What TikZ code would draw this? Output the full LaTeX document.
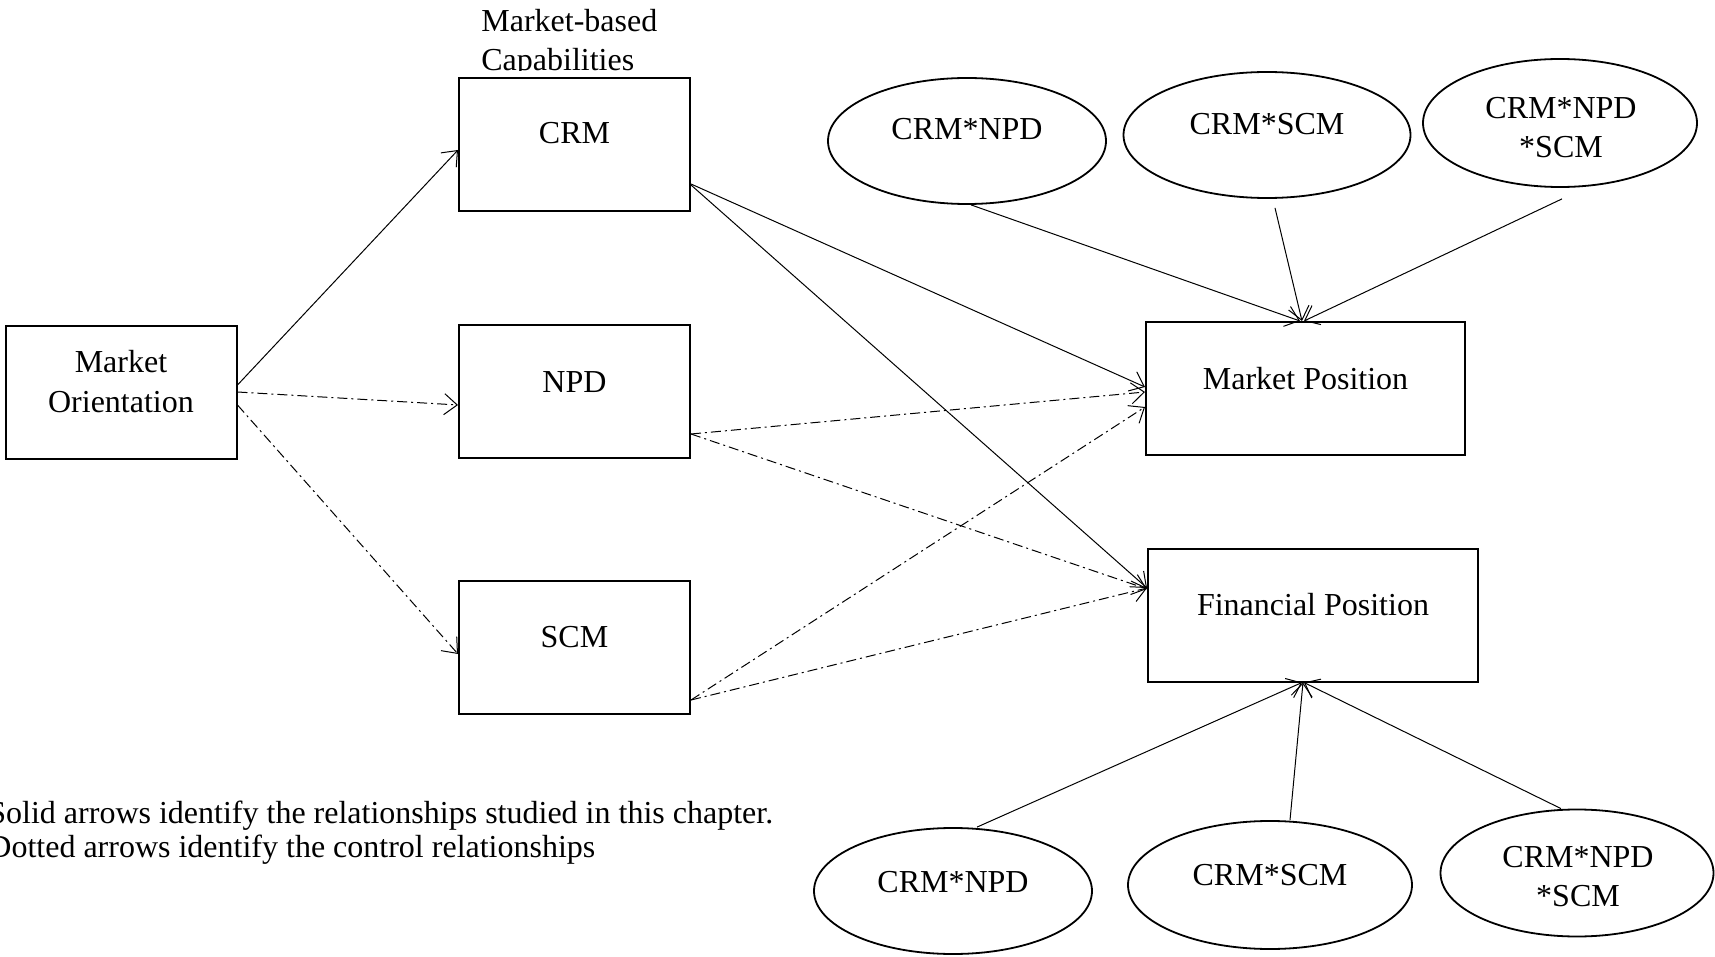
\documentclass[tikz,border=0pt]{standalone}
\usepackage{fontspec}
\setmainfont{Liberation Serif}
\usetikzlibrary{shapes.geometric,arrows.meta}
\begin{document}
\begin{tikzpicture}[x=0.5pt,y=-0.5pt,
  font=\fontsize{16}{20}\selectfont,
  box/.style={draw, line width=1pt, minimum width=115.5pt, minimum height=66.5pt, inner sep=0pt, fill=white},
  oval/.style={ellipse, draw, line width=0.9pt, inner sep=0pt},
  txt/.style={inner sep=0pt, align=center},
  arr/.style={-{Straight Barb[length=6.5pt,width=10.5pt]}, line width=0.5pt},
  ctrl/.style={arr, dash pattern=on 5pt off 2pt on 1pt off 2pt}
]
\fill[white] (0,0) rectangle (1715,957);
\useasboundingbox (0,0) rectangle (1715,957);

% caption above CRM (clipped at the bottom as in the reference)
\begin{scope}
\clip (470,0) rectangle (720,71);
\node[txt, anchor=base west] (mbc1) at (481,31.5) {Market-based};
\node[txt, anchor=base west] (mbc2) at (481,71) {Capabilities};
\end{scope}

% boxes
\node[box] (mo) at (121,392.5) {};
\node[txt] (motxt) at (121,382) {Market\\Orientation};
\node[box] (crm) at (574.5,144.5) {};
\node[txt] (crmtxt) at (574.5,133) {CRM};
\node[box] (npd) at (574.5,392) {};
\node[txt] (npdtxt) at (574.5,382) {NPD};
\node[box] (scm) at (574.5,647.5) {};
\node[txt] (scmtxt) at (574.5,637) {SCM};
\node[box, minimum width=159.5pt] (mp) at (1305.5,388.5) {};
\node[txt] (mptxt) at (1305.5,379) {Market Position};
\node[box, minimum width=165pt] (fp) at (1313,615) {};
\node[txt] (fptxt) at (1313,605) {Financial Position};

% top ellipses
\node[oval, minimum width=139pt, minimum height=63pt] (e1) at (967,141) {};
\node[txt] (e1t) at (967,129) {CRM*NPD};
\node[oval, minimum width=143.5pt, minimum height=63pt] (e2) at (1267,135) {};
\node[txt] (e2t) at (1267,124) {CRM*SCM};
\node[oval, minimum width=137pt, minimum height=64pt] (e3) at (1560,123) {};
\node[txt, font=\fontsize{16}{19.5}\selectfont] (e3t) at (1561,128) {CRM*NPD\\*SCM};

% bottom ellipses
\node[oval, minimum width=139pt, minimum height=63pt] (f1) at (953,891) {};
\node[txt] (f1t) at (953,882) {CRM*NPD};
\node[oval, minimum width=142pt, minimum height=64pt] (f2) at (1270,885) {};
\node[txt] (f2t) at (1270,875) {CRM*SCM};
\node[oval, minimum width=136.5pt, minimum height=63.5pt] (f3) at (1577,873) {};
\node[txt, font=\fontsize{16}{19.5}\selectfont] (f3t) at (1578,876.5) {CRM*NPD\\*SCM};

% note
\node[txt, align=left, anchor=west, font=\fontsize{16}{17}\selectfont] (note) at (-12,833)
  {Solid arrows identify the relationships studied in this chapter.\\Dotted arrows identify the control relationships};

% connectors
\draw[arr]  ([yshift=3.75pt]mo.east) -- ([yshift=-2.75pt]crm.west);
\draw[ctrl] ([yshift=0.25pt]mo.east) -- ([yshift=-6.5pt]npd.west);
\draw[ctrl] ([yshift=-6.25pt]mo.east) -- ([yshift=-3.25pt]scm.west);
\draw[arr]  ([yshift=-19.75pt]crm.east) -- ([yshift=0.75pt]mp.west);
\draw[arr]  ([yshift=-20.25pt]crm.east) -- ([yshift=13.5pt]fp.west);
\draw[ctrl] ([yshift=-21pt]npd.east) -- ([yshift=-1.75pt]mp.west);
\draw[ctrl] ([yshift=-21pt]npd.east) -- ([yshift=13pt]fp.west);
\draw[ctrl] ([yshift=-26.25pt]scm.east) -- ([yshift=-9.25pt]mp.west);
\draw[ctrl] ([yshift=-26.25pt]scm.east) -- ([yshift=13.5pt]fp.west);

\draw[arr] ([xshift=2pt]e1.south) -- ([xshift=-2.75pt]mp.north);
\draw[arr] ([xshift=4pt,yshift=-4.5pt]e2.south) -- ([xshift=-1.75pt]mp.north);
\draw[arr] ([xshift=1pt,yshift=-5.5pt]e3.south) -- ([xshift=-0.75pt]mp.north);

\draw[arr] ([xshift=12pt]f1.north) -- ([xshift=-5.5pt]fp.south);
\draw[arr] ([xshift=10pt]f2.north) -- ([xshift=-5pt]fp.south);
\draw[arr] ([xshift=-8pt]f3.north) -- ([xshift=-4.5pt]fp.south);
\end{tikzpicture}
\end{document}
